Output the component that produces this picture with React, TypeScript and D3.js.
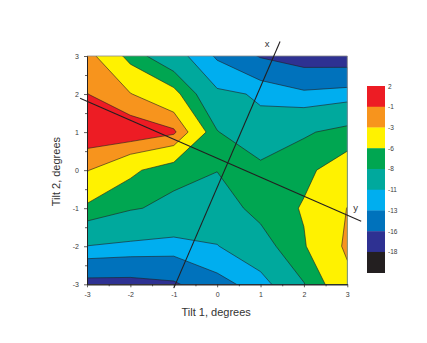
import { useEffect, useRef } from "react";
import * as d3 from "d3";

// measurement grid (degrees)
const tilt1 = [-3, -2, -1, 0, 1, 2, 3];
const tilt2 = [3, 2, 1, 0, -1, -2, -3];

// signal values, one array per Tilt 2 row (top row first), columns follow tilt1
const rowP3 = [-2.0, -6.85, -9.9, -13.3, -16.23, -17.5, -17.7];
const rowP2 = [-0.95, -2.9, -5.2, -10.6, -11.2, -12.5, -12.0];
const rowP1 = [0.4, 0.5, -0.6, -7.86, -10.55, -8.3, -7.2];
const row0 = [-2.85, -5.5, -7.4, -7.95, -7.1, -6.5, -4.8];
const rowM1 = [-6.45, -7.8, -8.5, -9.09, -7.3, -5.81, -2.95];
const rowM2 = [-11.05, -11.48, -11.8, -11.1, -9.0, -6.2, -2.52];
const rowM3 = [-17.0, -17.0, -16.4, -13.8, -12.0, -8.1, -3.82];

// contour levels (low to high) and the fill above each level
const levels = [-18, -16, -13, -11, -8, -6, -3, -1];
const levelColors = [
  "#2E3192",
  "#0072BC",
  "#00AEEF",
  "#00A99D",
  "#00A651",
  "#FFF200",
  "#F7941D",
  "#ED1C24",
];
const belowColor = "#231F20";

// colour scale legend (top to bottom)
const barLabels = ["2", "-1", "-3", "-6", "-8", "-11", "-13", "-16", "-18"];
const barColors = [
  "#ED1C24",
  "#F7941D",
  "#FFF200",
  "#00A651",
  "#00A99D",
  "#00AEEF",
  "#0072BC",
  "#2E3192",
  "#231F20",
];

const majorTicks = [-3, -2, -1, 0, 1, 2, 3];
const minorTicks = [-2.5, -1.5, -0.5, 0.5, 1.5, 2.5];

// rotated sample axes drawn over the map
const guides = [
  { label: "x", from: [-1.0, -3.1], to: [1.45, 3.38], at: [1.15, 3.33] },
  { label: "y", from: [-3.16, 1.89], to: [3.32, -1.34], at: [3.19, -0.97] },
];

const FONT = "'Liberation Sans', Arial, Helvetica, sans-serif";

export default function App() {
  const ref = useRef<SVGSVGElement>(null);

  useEffect(() => {
    const width = 427;
    const height = 343;

    const svg = d3.select(ref.current).attr("width", width).attr("height", height);
    svg.selectAll("*").remove();

    const x = d3.scaleLinear().domain([-3, 3]).range([87, 347.3]);
    const y = d3.scaleLinear().domain([-3, 3]).range([284.3, 56]);

    const values = [rowP3, rowP2, rowP1, row0, rowM1, rowM2, rowM3].flat();
    const contours = d3
      .contours()
      .size([tilt1.length, tilt2.length])
      .thresholds(levels)(values);

    // d3.contours puts grid value i at i + 0.5
    const gx = d3
      .scaleLinear()
      .domain([0.5, tilt1.length - 0.5])
      .range([tilt1[0], tilt1[tilt1.length - 1]]);
    const gy = d3
      .scaleLinear()
      .domain([0.5, tilt2.length - 0.5])
      .range([tilt2[0], tilt2[tilt2.length - 1]]);

    const path = d3.geoPath(
      d3.geoTransform({
        point(px: number, py: number) {
          this.stream.point(x(gx(px)), y(gy(py)));
        },
      })
    );

    svg
      .append("clipPath")
      .attr("id", "plot-clip")
      .append("rect")
      .attr("x", x(-3))
      .attr("y", y(3))
      .attr("width", x(3) - x(-3))
      .attr("height", y(-3) - y(3));

    const plot = svg.append("g").attr("clip-path", "url(#plot-clip)");

    plot
      .append("rect")
      .attr("x", x(-3))
      .attr("y", y(3))
      .attr("width", x(3) - x(-3))
      .attr("height", y(-3) - y(3))
      .attr("fill", belowColor);

    plot
      .selectAll("path.band")
      .data(contours)
      .join("path")
      .attr("class", "band")
      .attr("d", (d) => path(d as any))
      .attr("fill", (d, i) => levelColors[i])
      .attr("stroke", "#231F20")
      .attr("stroke-width", 0.6)
      .attr("stroke-linejoin", "round");

    // top / right frame
    svg
      .append("path")
      .attr("d", `M${x(-3)},${y(3)}H${x(3)}V${y(-3)}`)
      .attr("fill", "none")
      .attr("stroke", "#8a8a8a")
      .attr("stroke-width", 0.8);

    // guide lines
    const line = d3
      .line<number[]>()
      .x((d) => x(d[0]))
      .y((d) => y(d[1]));

    svg
      .selectAll("path.guide")
      .data(guides)
      .join("path")
      .attr("class", "guide")
      .attr("d", (d) => line([d.from, d.to]))
      .attr("stroke", "#231F20")
      .attr("stroke-width", 1.1)
      .attr("fill", "none");

    svg
      .selectAll("text.guide")
      .data(guides)
      .join("text")
      .attr("class", "guide")
      .attr("x", (d) => x(d.at[0]))
      .attr("y", (d) => y(d.at[1]))
      .attr("text-anchor", "middle")
      .attr("dominant-baseline", "central")
      .style("font-family", FONT)
      .style("font-size", "9.5px")
      .style("fill", "#333")
      .text((d) => d.label);

    // axes
    const styleAxis = (g: any) => {
      g.selectAll("path.domain").attr("stroke", "#231F20").attr("stroke-width", 0.9);
      g.selectAll(".tick line").attr("stroke", "#231F20").attr("stroke-width", 0.7);
      g.selectAll(".tick text")
        .style("font-family", FONT)
        .style("font-size", "7px")
        .style("fill", "#3a3a3a");
    };
    const plain = (d: any) => String(d);

    svg
      .append("g")
      .attr("transform", `translate(0,${y(-3)})`)
      .call(d3.axisBottom(x).tickValues(minorTicks).tickSize(2).tickSizeOuter(0).tickFormat(() => ""))
      .call(styleAxis);
    svg
      .append("g")
      .attr("transform", `translate(0,${y(-3)})`)
      .call(d3.axisBottom(x).tickValues(majorTicks).tickSize(3).tickSizeOuter(0).tickPadding(4.5).tickFormat(plain))
      .call(styleAxis);

    svg
      .append("g")
      .attr("transform", `translate(${x(-3)},0)`)
      .call(d3.axisLeft(y).tickValues(minorTicks).tickSize(2).tickSizeOuter(0).tickFormat(() => ""))
      .call(styleAxis);
    svg
      .append("g")
      .attr("transform", `translate(${x(-3)},0)`)
      .call(d3.axisLeft(y).tickValues(majorTicks).tickSize(3).tickSizeOuter(0).tickPadding(5).tickFormat(plain))
      .call(styleAxis);

    svg
      .append("text")
      .attr("x", (x(-3) + x(3)) / 2 - 1)
      .attr("y", 315.5)
      .attr("text-anchor", "middle")
      .style("font-family", FONT)
      .style("font-size", "11px")
      .style("fill", "#333")
      .text("Tilt 1, degrees");

    svg
      .append("text")
      .attr("transform", `translate(59.5,${(y(-3) + y(3)) / 2 + 1.5}) rotate(-90)`)
      .attr("text-anchor", "middle")
      .style("font-family", FONT)
      .style("font-size", "11px")
      .style("fill", "#333")
      .text("Tilt 2, degrees");

    // colour bar
    const band = d3.scaleBand<string>().domain(barLabels).range([86, 272.7]);
    const bar = svg.append("g");

    bar
      .selectAll("rect")
      .data(barLabels)
      .join("rect")
      .attr("x", 367)
      .attr("y", (d) => band(d) as number)
      .attr("width", 18)
      .attr("height", band.bandwidth() + 0.3)
      .attr("fill", (d, i) => barColors[i]);

    bar
      .selectAll("text")
      .data(barLabels)
      .join("text")
      .attr("x", 388)
      .attr("y", (d) => band(d) as number)
      .attr("dominant-baseline", "central")
      .style("font-family", FONT)
      .style("font-size", "6.5px")
      .style("fill", "#3a3a3a")
      .text((d) => d);
  }, []);

  return (
    <svg
      ref={ref}
      style={{ position: "absolute", left: 0, top: 0, background: "#fff" }}
    ></svg>
  );
}
